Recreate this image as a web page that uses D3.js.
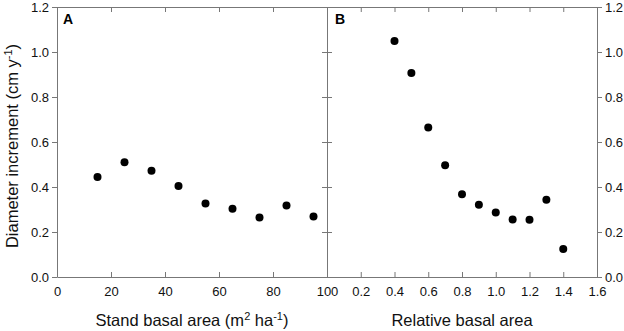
<!DOCTYPE html>
<html>
<head>
<meta charset="utf-8">
<script src="https://cdn.jsdelivr.net/npm/d3@7"></script>
<style>
  body { margin: 0; background: #fff; }
  svg { display: block; font-family: "Liberation Sans", Arial, sans-serif; }
  .axis path, .axis line { stroke: #777; }
  .axis text { fill: #111; font-size: 13px; }
</style>
</head>
<body>
<div id="canvas"></div>
<script>
"use strict";

let svgWidth = 624;
let svgHeight = 331;

/* === Data === */
let standBasalArea = [15, 25, 35, 45, 55, 65, 75, 85, 95];
let incrementA = [0.445, 0.51, 0.472, 0.404, 0.327, 0.303, 0.265, 0.318, 0.269];

let relativeBasalArea = [0.4, 0.5, 0.6, 0.7, 0.8, 0.9, 1.0, 1.1, 1.2, 1.3, 1.4];
let incrementB = [1.049, 0.907, 0.665, 0.497, 0.368, 0.321, 0.287, 0.256, 0.254, 0.343, 0.125];

let yTicks = [0, 0.2, 0.4, 0.6, 0.8, 1.0, 1.2];
let xTicksA = [0, 20, 40, 60, 80, 100];
let xTicksB = [0.2, 0.4, 0.6, 0.8, 1.0, 1.2, 1.4, 1.6];

let plotA = dataFrom(standBasalArea, incrementA);
let plotB = dataFrom(relativeBasalArea, incrementB);

function dataFrom(xs, ys) {
  return xs.map((x, i) => ({ x: x, y: ys[i] }));
}

/* === Layout === */
let plotLeft = 57, plotMid = 327, plotRight = 597, plotTop = 7, plotBottom = 277;
let tickLen = 5;

let svg = d3.select("#canvas")
  .append("svg")
  .attr("width", svgWidth)
  .attr("height", svgHeight);

let yScale = d3.scaleLinear().domain([0, 1.2]).range([plotBottom, plotTop]);
let xScaleA = d3.scaleLinear().domain([0, 100]).range([plotLeft, plotMid]);
let xScaleB = d3.scaleLinear().domain([0, 1.6]).range([plotMid, plotRight]);

/* === Panel A axes === */
svg.append("g").attr("class", "axis")
  .attr("transform", `translate(0, ${plotBottom})`)
  .call(d3.axisBottom(xScaleA).tickValues(xTicksA).tickSizeInner(-tickLen).tickSizeOuter(0).tickPadding(tickLen + 5).tickFormat(d3.format("d")));

svg.append("g").attr("class", "axis")
  .attr("transform", `translate(0, ${plotTop})`)
  .call(d3.axisTop(xScaleA).tickValues(xTicksA).tickSizeInner(-tickLen).tickSizeOuter(0).tickFormat(""));

svg.append("g").attr("class", "axis")
  .attr("transform", `translate(${plotLeft}, 0)`)
  .call(d3.axisLeft(yScale).tickValues(yTicks).tickSizeInner(tickLen).tickSizeOuter(0).tickPadding(3).tickFormat(d3.format(".1f")));

svg.append("g").attr("class", "axis")
  .attr("transform", `translate(${plotMid}, 0)`)
  .call(d3.axisRight(yScale).tickValues(yTicks).tickSizeInner(-tickLen).tickSizeOuter(0).tickFormat(""));

/* === Panel B axes === */
svg.append("g").attr("class", "axis")
  .attr("transform", `translate(0, ${plotBottom})`)
  .call(d3.axisBottom(xScaleB).tickValues(xTicksB).tickSizeInner(-tickLen).tickSizeOuter(0).tickPadding(tickLen + 5).tickFormat(d3.format(".1f")));

svg.append("g").attr("class", "axis")
  .attr("transform", `translate(0, ${plotTop})`)
  .call(d3.axisTop(xScaleB).tickValues(xTicksB).tickSizeInner(-tickLen).tickSizeOuter(0).tickFormat(""));

svg.append("g").attr("class", "axis")
  .attr("transform", `translate(${plotMid}, 0)`)
  .call(d3.axisLeft(yScale).tickValues(yTicks).tickSizeInner(-tickLen).tickSizeOuter(0).tickFormat(""));

svg.append("g").attr("class", "axis")
  .attr("transform", `translate(${plotRight}, 0)`)
  .call(d3.axisRight(yScale).tickValues(yTicks).tickSizeInner(tickLen).tickSizeOuter(0).tickPadding(3).tickFormat(d3.format(".1f")));

/* === Points === */
svg.selectAll("circle.pa")
  .data(plotA)
  .enter()
  .append("circle")
  .classed("pa", true)
  .attr("cx", d => xScaleA(d.x))
  .attr("cy", d => yScale(d.y))
  .attr("r", 4)
  .attr("fill", "#000");

svg.selectAll("circle.pb")
  .data(plotB)
  .enter()
  .append("circle")
  .classed("pb", true)
  .attr("cx", d => xScaleB(d.x))
  .attr("cy", d => yScale(d.y))
  .attr("r", 4)
  .attr("fill", "#000");

/* === Panel letters === */
svg.append("text").attr("x", plotLeft + 6).attr("y", plotTop + 17)
  .attr("font-size", "14px").attr("font-weight", "bold").text("A");
svg.append("text").attr("x", plotMid + 8).attr("y", plotTop + 17)
  .attr("font-size", "14px").attr("font-weight", "bold").text("B");

/* === Axis titles === */
let titleA = svg.append("text")
  .attr("x", (plotLeft + plotMid) / 2)
  .attr("y", 326)
  .attr("text-anchor", "middle")
  .attr("font-size", "16.5px")
  .attr("fill", "#111");
titleA.append("tspan").text("Stand basal area (m");
titleA.append("tspan").attr("dy", -6).attr("font-size", "11px").text("2");
titleA.append("tspan").attr("dy", 6).text(" ha");
titleA.append("tspan").attr("dy", -6).attr("font-size", "11px").text("-1");
titleA.append("tspan").attr("dy", 6).text(")");

svg.append("text")
  .attr("x", (plotMid + plotRight) / 2)
  .attr("y", 326)
  .attr("text-anchor", "middle")
  .attr("font-size", "16.5px")
  .attr("fill", "#111")
  .text("Relative basal area");

let yTitle = svg.append("text")
  .attr("transform", `translate(18, 146) rotate(-90)`)
  .attr("text-anchor", "middle")
  .attr("font-size", "16.5px")
  .attr("fill", "#111");
yTitle.append("tspan").text("Diameter increment (cm y");
yTitle.append("tspan").attr("dy", -6).attr("font-size", "11px").text("-1");
yTitle.append("tspan").attr("dy", 6).text(")");
</script>
</body>
</html>
